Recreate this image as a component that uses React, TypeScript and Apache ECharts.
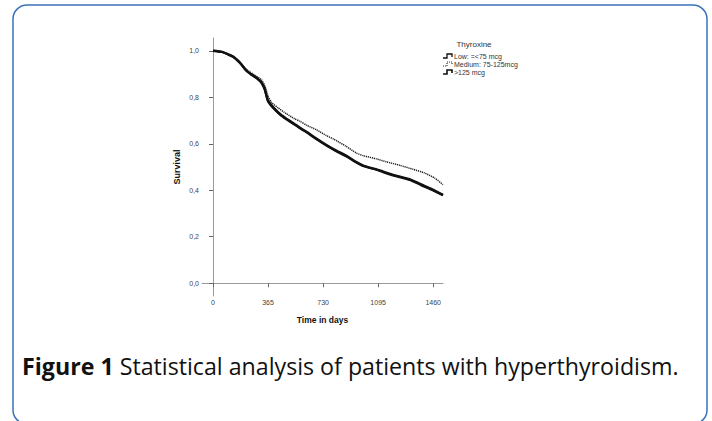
import React, { useEffect, useRef } from "react";
import * as echarts from "echarts";

const xTicks = [0, 365, 730, 1095, 1460];
const yTicks = [0, 0.2, 0.4, 0.6, 0.8, 1.0];

const lowDays = [0, 60, 100, 133, 177, 221, 250, 277, 300, 321, 343, 365, 409, 450, 487, 540, 587, 620, 680, 752, 820, 880, 951, 1000, 1084, 1128, 1200, 1306, 1380, 1450, 1525];
const lowValues = [1.0, 0.995, 0.985, 0.975, 0.95, 0.915, 0.9, 0.889, 0.878, 0.865, 0.836, 0.786, 0.75, 0.725, 0.708, 0.685, 0.665, 0.652, 0.625, 0.595, 0.57, 0.55, 0.521, 0.505, 0.49, 0.48, 0.465, 0.447, 0.425, 0.405, 0.38];

const mediumDays = [0, 60, 100, 133, 177, 221, 277, 321, 343, 365, 387, 430, 487, 540, 576, 620, 686, 752, 800, 880, 951, 1000, 1084, 1150, 1240, 1327, 1400, 1471, 1525];
const mediumValues = [1.0, 0.995, 0.985, 0.975, 0.952, 0.92, 0.895, 0.875, 0.85, 0.805, 0.779, 0.755, 0.729, 0.708, 0.697, 0.68, 0.66, 0.635, 0.62, 0.59, 0.56, 0.548, 0.535, 0.522, 0.507, 0.49, 0.475, 0.452, 0.424];

const highDays = [0, 60, 100, 133, 177, 221, 250, 277, 300, 321, 343, 365, 409, 450, 487, 540, 587, 620, 680, 752, 820, 880, 951, 1000, 1084, 1128, 1200, 1306, 1380, 1450, 1525];
const highValues = [1.0, 0.995, 0.984, 0.974, 0.949, 0.914, 0.899, 0.887, 0.876, 0.862, 0.833, 0.782, 0.747, 0.722, 0.705, 0.682, 0.662, 0.649, 0.622, 0.592, 0.567, 0.547, 0.519, 0.503, 0.488, 0.478, 0.463, 0.444, 0.422, 0.402, 0.378];

const legendTitle = "Thyroxine";
const legendNames = ["Low: =<75 mcg", "Medium: 75-125mcg", ">125 mcg"];
const captionBold = "Figure 1";
const captionText = " Statistical analysis of patients with hyperthyroidism.";

const zip = (a: number[], b: number[]) => a.map((d, i) => [d, b[i]]);

export default function App() {
  const ref = useRef<HTMLDivElement>(null);
  useEffect(() => {
    document.body.style.margin = "0";
    if (!ref.current) return;
    const chart = echarts.init(ref.current, null, { renderer: "svg" });
    const axisColor = "#9a9a9a";
    const labelColor = "#444";
    const stepIcon = (x: number, y: number) => [
      [x, y + 4],
      [x + 4, y + 4],
      [x + 4, y],
      [x + 9, y],
      [x + 9, y + 3],
    ];
    const legendStyles = [
      { stroke: "#111", lineWidth: 1.3 },
      { stroke: "#333", lineWidth: 1.2, lineDash: [1, 1] },
      { stroke: "#111", lineWidth: 1.6 },
    ];
    const legendItems: any[] = [];
    legendNames.forEach((n, i) => {
      const y = 54 + i * 8;
      legendItems.push({
        type: "polyline",
        shape: { points: stepIcon(443, y) },
        style: { fill: "none", ...legendStyles[i] },
      });
      legendItems.push({
        type: "text",
        x: 454,
        y: y + 2,
        style: {
          text: n,
          fontSize: 7,
          fontFamily: "Liberation Sans",
          fill: "#333",
          verticalAlign: "middle",
        },
      });
    });

    chart.setOption({
      animation: false,
      grid: { left: 202, right: 269, top: 38, bottom: 125 },
      xAxis: {
        type: "value",
        min: -73,
        max: 1525,
        axisLine: { show: true, lineStyle: { color: axisColor, width: 1 } },
        axisTick: { show: true, customValues: xTicks, length: 4, lineStyle: { color: "#666" } },
        axisLabel: {
          customValues: xTicks,
          fontSize: 7,
          color: labelColor,
          fontFamily: "Liberation Sans",
          margin: 3,
          formatter: (v: number) => String(v),
        },
        splitLine: { show: false },
        name: "Time in days",
        nameLocation: "middle",
        nameGap: 19,
        nameTextStyle: { fontSize: 8.5, fontWeight: "bold", color: "#111", fontFamily: "Liberation Sans" },
      },
      yAxis: {
        type: "value",
        min: -0.055,
        max: 1.055,
        axisLine: { show: true, lineStyle: { color: axisColor, width: 1 } },
        axisTick: { show: true, customValues: yTicks, length: 4, lineStyle: { color: "#666" } },
        axisLabel: {
          customValues: yTicks,
          fontSize: 7,
          color: labelColor,
          fontFamily: "Liberation Sans",
          margin: 3,
          formatter: (v: number) => v.toFixed(1).replace(".", ","),
        },
        splitLine: { show: false },
        name: "Survival",
        nameLocation: "middle",
        nameGap: 21,
        nameRotate: 90,
        nameTextStyle: { fontSize: 9, fontWeight: "bold", color: "#111", fontFamily: "Liberation Sans" },
      },
      series: [
        {
          name: legendNames[0],
          type: "line",
          data: zip(lowDays, lowValues),
          showSymbol: false,
          smooth: 0.2,
          lineStyle: { color: "#111", width: 2.4 },
        },
        {
          name: legendNames[1],
          type: "line",
          data: zip(mediumDays, mediumValues),
          showSymbol: false,
          smooth: 0.2,
          lineStyle: { color: "#222", width: 1.5, type: [1.2, 0.8] },
        },
        {
          name: legendNames[2],
          type: "line",
          data: zip(highDays, highValues),
          showSymbol: false,
          smooth: 0.2,
          lineStyle: { color: "#111", width: 2.2 },
        },
      ],
      graphic: [
        {
          type: "rect",
          shape: { x: 13, y: 5, width: 694, height: 419, r: 14 },
          style: { fill: "none", stroke: "#3b73b9", lineWidth: 1.5 },
          z: -1,
        },
        {
          type: "text",
          x: 474,
          y: 44,
          style: {
            text: legendTitle,
            fontSize: 8,
            fontFamily: "Liberation Sans",
            fill: "#333",
            align: "center",
            verticalAlign: "middle",
          },
        },
        ...legendItems,
        {
          type: "text",
          x: 22,
          y: 366,
          style: {
            text: "{b|" + captionBold + "}{r|" + captionText + "}",
            verticalAlign: "middle",
            rich: {
              b: { fontSize: 23.2, fontWeight: "bold", fontFamily: "Open Sans", fill: "#111" },
              r: { fontSize: 23.2, fontFamily: "Open Sans", fill: "#111" },
            },
          },
        },
      ],
    });
    return () => chart.dispose();
  }, []);
  return <div ref={ref} style={{ width: 712, height: 421 }} />;
}
